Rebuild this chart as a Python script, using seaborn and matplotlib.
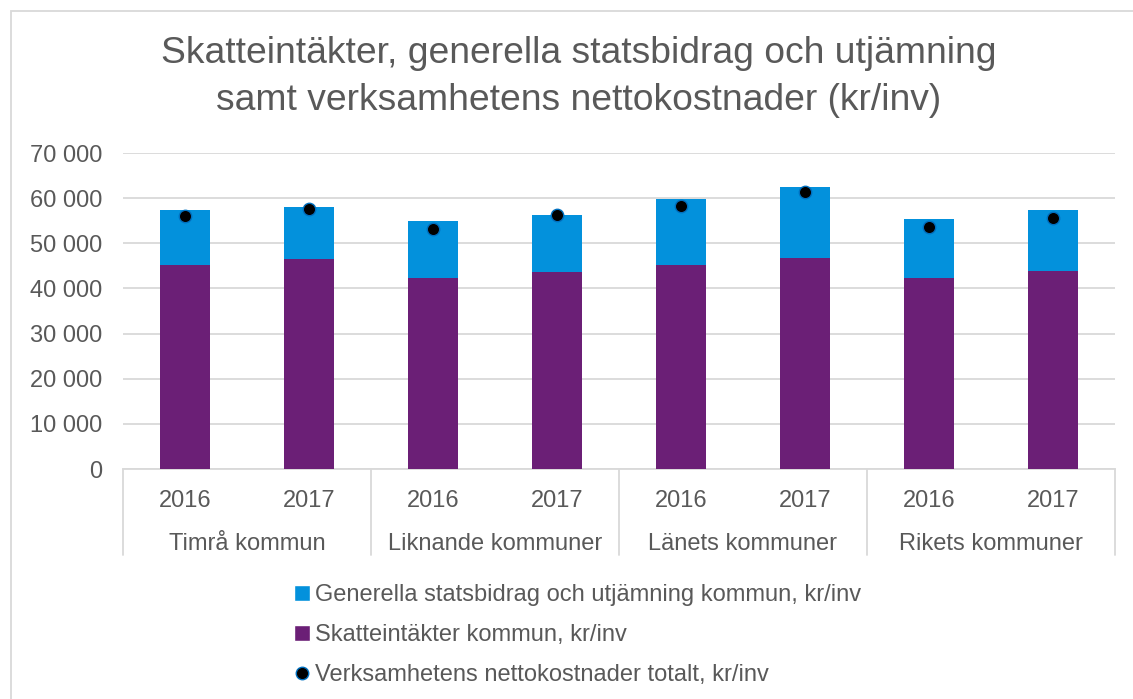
import numpy as np
import pandas as pd
import matplotlib.pyplot as plt
from matplotlib.lines import Line2D
from matplotlib.patches import Patch, Rectangle
from matplotlib.ticker import FuncFormatter
import seaborn as sns

# values (kr/inv)
groups = ["Timrå kommun", "Liknande kommuner", "Länets kommuner", "Rikets kommuner"]
years = ["2016", "2017"]
skatteintakter = [45300, 46600, 42300, 43700, 45200, 46700, 42300, 43900]
statsbidrag = [12000, 11500, 12600, 12600, 14700, 15800, 13000, 13500]
nettokostnad = [56100, 57600, 53200, 56200, 58300, 61400, 53600, 55700]

labels = [f"{g} {y}" for g in groups for y in years]
df = pd.DataFrame({
    "key": labels,
    "year": years * len(groups),
    "skatt": skatteintakter,
    "bidrag": statsbidrag,
    "netto": nettokostnad,
})
df["total"] = df["skatt"] + df["bidrag"]

blue = "#0391DC"
purple = "#6B1F76"
grey = "#595959"
gridc = "#D9D9D9"

sns.set_style("white")
plt.rcParams["font.family"] = ["Liberation Sans", "DejaVu Sans"]

fig = plt.figure(figsize=(11.33, 6.99), dpi=100)
ax = fig.add_axes([123 / 1133, 1 - 469 / 699, (1115 - 123) / 1133, (469 - 153) / 699])

# stacked bars: total (blue) behind, skatteintäkter (purple) in front
sns.barplot(data=df, x="key", y="total", color=blue, width=0.4, errorbar=None,
            linewidth=0, saturation=1, ax=ax, zorder=2)
sns.barplot(data=df, x="key", y="skatt", color=purple, width=0.4, errorbar=None,
            linewidth=0, saturation=1, ax=ax, zorder=3)
ax.scatter(np.arange(len(df)), df["netto"], s=80, color="black",
           edgecolor="#0070C0", linewidth=1, zorder=4)

ax.set_xlim(-0.5, len(df) - 0.5)
ax.set_ylim(0, 70000)
ax.set_yticks(np.arange(0, 70001, 10000))
ax.yaxis.set_major_formatter(FuncFormatter(lambda v, p: f"{int(v):,}".replace(",", " ")))
ax.set_xticks(np.arange(len(df)))
ax.set_xticklabels(df["year"])
ax.set_xlabel("")
ax.set_ylabel("")
ax.tick_params(axis="both", length=0, labelsize=17, labelcolor=grey)
ax.tick_params(axis="x", pad=15)
ax.tick_params(axis="y", pad=15)
ax.grid(axis="y", color=gridc, linewidth=1.3, zorder=0)
ax.set_axisbelow(True)
for s in ["left", "right", "top"]:
    ax.spines[s].set_visible(False)
ax.spines["bottom"].set_color(gridc)
ax.spines["bottom"].set_linewidth(1.3)

# grouped category axis
trans = ax.get_xaxis_transform()
for i in range(len(groups) + 1):
    ax.plot([2 * i - 0.5] * 2, [0, -0.272], transform=trans, color=gridc,
            linewidth=1.3, clip_on=False)
for i, g in enumerate(groups):
    ax.text(2 * i + 0.5, -0.237, g, transform=trans, ha="center", va="center",
            fontsize=17, color=grey)

fig.text(579 / 1133, 1 - 63 / 699, "Skatteintäkter, generella statsbidrag och utjämning",
         ha="center", va="baseline", fontsize=26.8, color=grey)
fig.text(579 / 1133, 1 - 110 / 699, "samt verksamhetens nettokostnader (kr/inv)",
         ha="center", va="baseline", fontsize=26.8, color=grey)

handles = [
    Patch(facecolor=blue, label="Generella statsbidrag och utjämning kommun, kr/inv"),
    Patch(facecolor=purple, label="Skatteintäkter kommun, kr/inv"),
    Line2D([], [], marker="o", linestyle="", markersize=9, markerfacecolor="black",
           markeredgecolor="#0070C0", label="Verksamhetens nettokostnader totalt, kr/inv"),
]
fig.legend(handles=handles, loc="upper left", bbox_to_anchor=(285 / 1133, 1 - 575 / 699),
           frameon=False, fontsize=17, labelcolor=grey, handlelength=0.65,
           handleheight=0.65, handletextpad=0.2, labelspacing=0.75, borderaxespad=0)

# light chart-area border
fig.patches.append(Rectangle((11 / 1133, -0.01), 1.0, 1 - 11 / 699 + 0.01,
                             transform=fig.transFigure, fill=False,
                             edgecolor=gridc, linewidth=1.3))

fig.savefig("out.png", dpi=100)
